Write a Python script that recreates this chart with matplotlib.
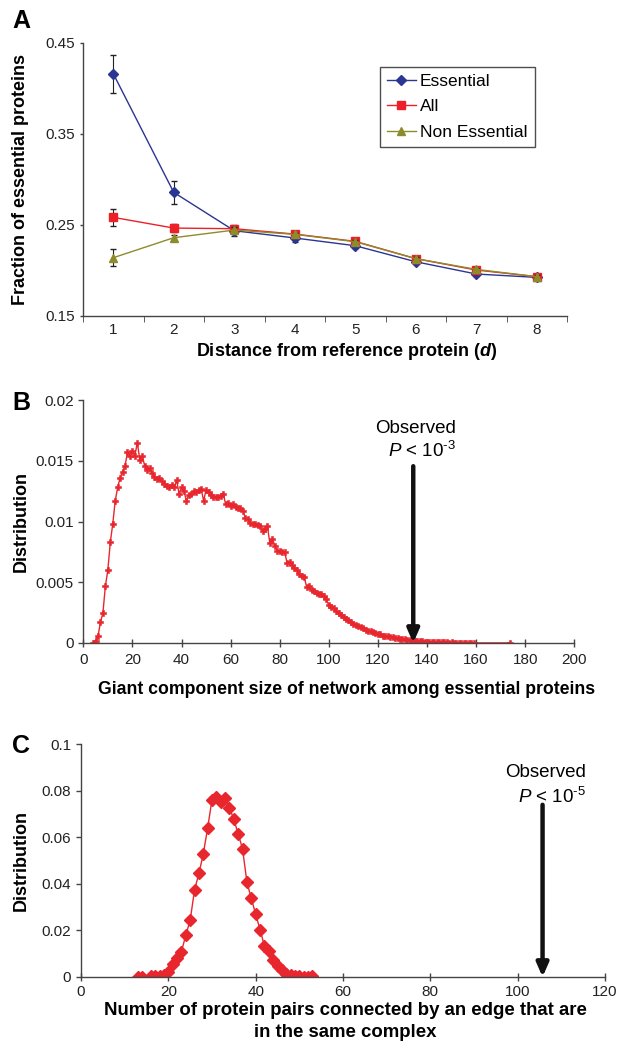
import numpy as np
import matplotlib
matplotlib.use('Agg')
import matplotlib.pyplot as plt

plt.rcParams['font.family'] = ['Liberation Sans', 'DejaVu Sans']
plt.rcParams['mathtext.fontset'] = 'custom'
plt.rcParams['mathtext.rm'] = 'Liberation Sans'
plt.rcParams['mathtext.it'] = 'Liberation Sans:italic'
plt.rcParams['mathtext.bf'] = 'Liberation Sans:bold'
plt.rcParams['mathtext.bfit'] = 'Liberation Sans:italic:bold'

# panel A
dist = [1, 2, 3, 4, 5, 6, 7, 8]
ess = [0.416, 0.2855, 0.2434, 0.2354, 0.2269, 0.2093, 0.1958, 0.1921]
ess_err = [0.021, 0.0125, 0.006, 0.004, 0.003, 0.003, 0.002, 0.002]
all_ = [0.2581, 0.2463, 0.2456, 0.2397, 0.2317, 0.2127, 0.2002, 0.1929]
all_err = [0.009, 0.004, 0.003, 0.002, 0.002, 0.002, 0.002, 0.002]
non = [0.2137, 0.2357, 0.2441, 0.2394, 0.2313, 0.2127, 0.2009, 0.1929]
non_err = [0.0093, 0.003, 0.003, 0.002, 0.002, 0.002, 0.002, 0.002]

# panel B
giant_x = list(range(4, 160)) + [174]
giant_y = [0.0, 0.0002, 0.0006, 0.0017, 0.0025, 0.0047, 0.006, 0.0083, 0.0098, 0.0117,
           0.0128, 0.0136, 0.0141, 0.0146, 0.0157, 0.0154, 0.0158, 0.0154, 0.0165, 0.0151,
           0.0154, 0.0146, 0.0142, 0.0144, 0.014, 0.0137, 0.0135, 0.0136, 0.0133, 0.0131,
           0.0129, 0.0128, 0.013, 0.0128, 0.0134, 0.0123, 0.0128, 0.0125, 0.0117, 0.0122,
           0.0123, 0.0125, 0.0124, 0.0126, 0.0127, 0.0117, 0.0126, 0.0124, 0.0122, 0.012,
           0.012, 0.012, 0.0121, 0.0123, 0.0114, 0.0115, 0.0113, 0.0114, 0.0112, 0.0111,
           0.0111, 0.0109, 0.0103, 0.0102, 0.0099, 0.0098, 0.0098, 0.0097, 0.0096, 0.0092,
           0.0094, 0.0096, 0.0082, 0.0086, 0.008, 0.0076, 0.0076, 0.0075, 0.0075, 0.0066,
           0.0067, 0.0064, 0.0062, 0.006, 0.0057, 0.0055, 0.0054, 0.0046, 0.0047, 0.0044,
           0.0043, 0.0041, 0.004, 0.004, 0.0039, 0.0036, 0.0031, 0.003, 0.0029, 0.0026,
           0.0025, 0.0023, 0.0021, 0.002, 0.0019, 0.0017, 0.0016, 0.0015, 0.0014, 0.0013,
           0.0012, 0.0011, 0.001, 0.001, 0.0009, 0.0008, 0.0007, 0.0007, 0.0006, 0.0006,
           0.00055, 0.0005, 0.0005, 0.00045, 0.0004, 0.00035, 0.0003, 0.0003, 0.00027, 0.00025,
           0.0002, 0.0002, 0.0002, 0.00015, 0.00014, 0.00012, 0.0001, 0.0001, 0.0001, 0.00008,
           0.00008, 0.00006, 0.00006, 0.00005, 0.00005, 0.00004, 0.00005, 0.00003, 0.00004, 0.00003,
           0.00002, 0.00003, 0.00002, 0.00002, 0.00003, 0.00001, 0.00001]
giant_obs = 134.4

# panel C
pairs_x = [13, 14, 16, 17, 18, 19, 20, 21, 22, 23, 24, 25, 26, 27, 28, 29, 30, 31, 32, 33,
           34, 35, 36, 37, 38, 39, 40, 41, 42, 43, 44, 45, 46, 47, 48, 49, 50, 51, 52, 53]
pairs_y = [0.0, 0.0, 0.0003, 0.0003, 0.0004, 0.001, 0.0023, 0.0055, 0.0083, 0.0109,
           0.018, 0.0244, 0.0374, 0.0445, 0.0529, 0.064, 0.0762, 0.0773, 0.0752, 0.0769,
           0.0727, 0.0677, 0.0615, 0.055, 0.0407, 0.0338, 0.027, 0.0204, 0.0134, 0.0112,
           0.0072, 0.0047, 0.0029, 0.0014, 0.0007, 0.0004, 0.0003, 0.0001, 0.0001, 0.0003]
pairs_obs = 105.7

W, H = 619, 1045
fig = plt.figure(figsize=(W / 100, H / 100), dpi=100)

def box(l, t, r, b):
    return [l / W, 1 - b / H, (r - l) / W, (b - t) / H]

spine_c = '#444444'
red = '#e8262d'
TICK = 11
LAB = 13
LETTER = 18
NOTE = 13.5

def style(ax):
    for s in ['top', 'right']:
        ax.spines[s].set_visible(False)
    for s in ['left', 'bottom']:
        ax.spines[s].set_color(spine_c)
        ax.spines[s].set_linewidth(1.0)
    ax.tick_params(colors='#222222', length=2.5, width=1.0, color=spine_c, labelsize=TICK)

def place_labels(ax, xl, ylx):
    ax.xaxis.set_label_coords(xl[0], xl[1])
    ax.xaxis.label.set_va('center')
    ax.yaxis.set_label_coords(ylx, 0.5)
    ax.yaxis.label.set_va('center')

# ---- A ----
axA = fig.add_axes(box(83, 42.7, 567, 315.7))
style(axA)
axA.errorbar(dist, ess, yerr=ess_err, color='#2b3592', marker='D', ms=5.5, lw=1.0,
             ecolor='#222222', elinewidth=0.8, capsize=2.5, label='Essential', zorder=3)
axA.errorbar(dist, all_, yerr=all_err, color='#ec2027', marker='s', ms=5.5, lw=1.0,
             ecolor='#222222', elinewidth=0.8, capsize=2.5, label='All', zorder=4)
axA.errorbar(dist, non, yerr=non_err, color='#8d8c2a', marker='^', ms=6, lw=1.0,
             ecolor='#222222', elinewidth=0.8, capsize=2.5, label='Non Essential', zorder=5)
axA.set_xlim(0.5, 8.5)
axA.set_ylim(0.15, 0.45)
axA.set_yticks([0.15, 0.25, 0.35, 0.45])
axA.set_yticklabels(['0.15', '0.25', '0.35', '0.45'])
axA.set_xticks(dist)
axA.set_xticklabels([str(d) for d in dist])
axA.set_xticks(np.arange(0.5, 9, 1), minor=True)
axA.tick_params(axis='x', which='major', length=0, pad=5)
axA.tick_params(axis='x', which='minor', length=4, color=spine_c, direction='out')
axA.set_xlabel(r'Distance from reference protein ($\mathbfit{d}$)', fontsize=LAB,
               fontweight='bold')
axA.set_ylabel('Fraction of essential proteins', fontsize=LAB, fontweight='bold')
place_labels(axA, (0.544, -0.132), -0.130)
handles, labels = axA.get_legend_handles_labels()
handles = [h[0] for h in handles]
leg = axA.legend(handles, labels, loc='upper left', bbox_to_anchor=(0.614, 0.912),
                 fontsize=12.5, frameon=True, fancybox=False, edgecolor='#222222',
                 borderpad=0.4, handlelength=1.65, handletextpad=0.25, labelspacing=0.6,
                 borderaxespad=0)
leg.get_frame().set_linewidth(1.0)
fig.text(12 / W, 1 - 21 / H, 'A', fontsize=LETTER, fontweight='bold', va='center', ha='left')

# ---- B ----
axB = fig.add_axes(box(83.3, 400, 574.3, 643))
style(axB)
axB.plot(giant_x, giant_y, color=red, lw=1.0, marker='P', ms=4.3, mec=red, mew=0.4)
axB.set_xlim(0, 200)
axB.set_ylim(0, 0.02)
axB.set_xticks(range(0, 201, 20))
axB.set_xticklabels([str(v) for v in range(0, 201, 20)])
axB.set_yticks([0, 0.005, 0.01, 0.015, 0.02])
axB.set_yticklabels(['0', '0.005', '0.01', '0.015', '0.02'])
axB.tick_params(axis='y', length=3.5)
axB.tick_params(axis='x', direction='inout', length=6, pad=4)
axB.set_xlabel('Giant component size of network among essential proteins', fontsize=12.7,
               fontweight='bold')
axB.set_ylabel('Distribution', fontsize=LAB, fontweight='bold')
place_labels(axB, (0.536, -0.193), -0.127)
axB.annotate('', xy=(giant_obs, 0), xytext=(giant_obs, 0.01455),
             arrowprops=dict(arrowstyle='-|>,head_width=0.35,head_length=0.8',
                             color='#111111', lw=3.2, shrinkA=0, shrinkB=0))
axB.text(152, 0.01765, 'Observed', fontsize=NOTE, ha='right', va='center')
axB.text(152, 0.01578, r'$\it{P}$ < 10$^{\text{-3}}$', fontsize=NOTE, ha='right',
         va='center')
fig.text(12 / W, 1 - 403.5 / H, 'B', fontsize=LETTER, fontweight='bold', va='center', ha='left')

# ---- C ----
axC = fig.add_axes(box(81, 744.3, 605, 977))
style(axC)
axC.plot(pairs_x, pairs_y, color=red, lw=1.0, marker='D', ms=6, mec=red)
axC.set_xlim(0, 120)
axC.set_ylim(0, 0.1)
axC.set_xticks(range(0, 121, 20))
axC.set_xticklabels([str(v) for v in range(0, 121, 20)])
axC.set_yticks([0, 0.02, 0.04, 0.06, 0.08, 0.1])
axC.set_yticklabels(['0', '0.02', '0.04', '0.06', '0.08', '0.1'])
axC.tick_params(axis='y', length=3.5)
axC.tick_params(axis='x', direction='inout', length=6, pad=3)
axC.set_xlabel('Number of protein pairs connected by an edge that are\nin the same complex',
               fontsize=13.4, fontweight='bold', linespacing=1.4)
axC.set_ylabel('Distribution', fontsize=LAB, fontweight='bold')
place_labels(axC, (0.505, -0.19), -0.1145)
axC.annotate('', xy=(pairs_obs, 0), xytext=(pairs_obs, 0.074),
             arrowprops=dict(arrowstyle='-|>,head_width=0.35,head_length=0.8',
                             color='#111111', lw=3.2, shrinkA=0, shrinkB=0))
axC.text(115.6, 0.0877, 'Observed', fontsize=NOTE, ha='right', va='center')
axC.text(115.6, 0.0773, r'$\it{P}$ < 10$^{\text{-5}}$', fontsize=NOTE, ha='right',
         va='center')
fig.text(12 / W, 1 - 746 / H, 'C', fontsize=LETTER, fontweight='bold', va='center', ha='left')

fig.savefig('out.png', dpi=100)
